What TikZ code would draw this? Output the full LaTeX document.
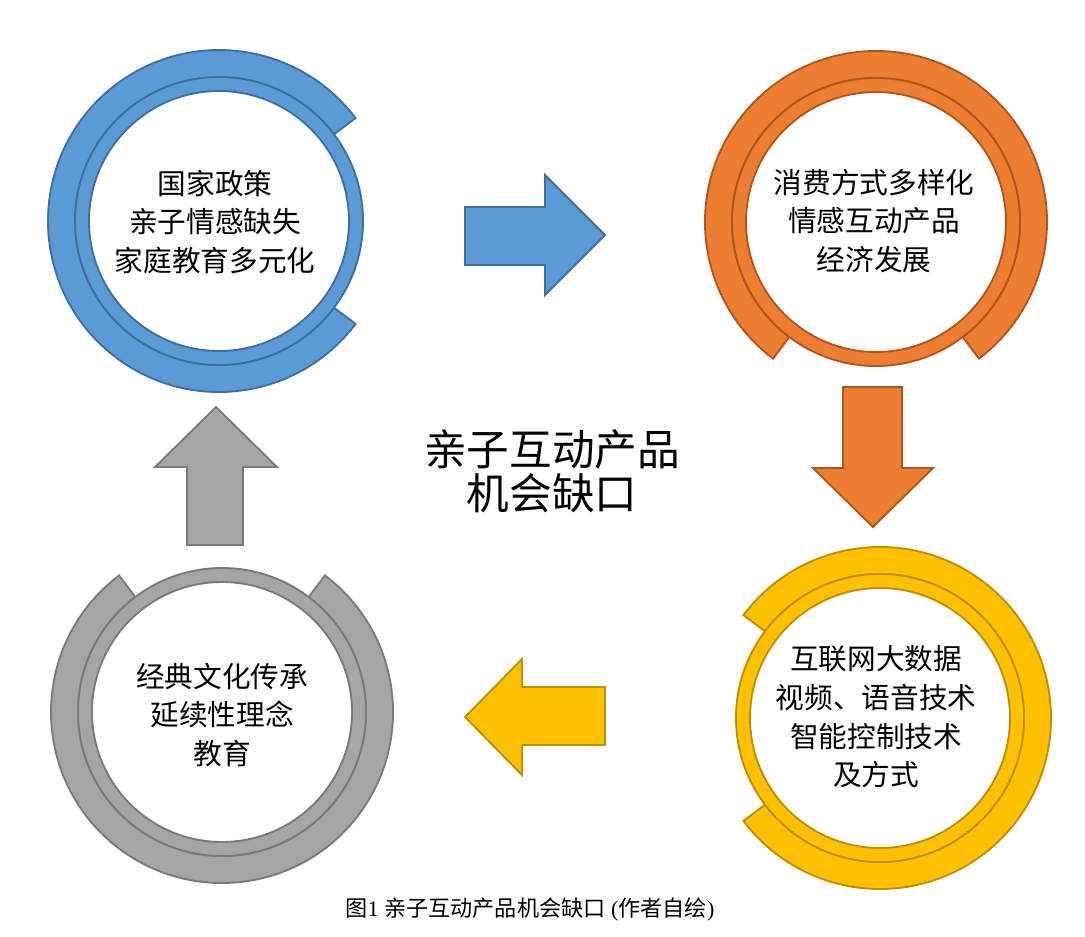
\documentclass[tikz,border=0pt]{standalone}
\usepackage{fontspec}
\setmainfont{Liberation Serif}
\newfontfamily\cjk{Noto Sans CJK SC}
\definecolor{bfill}{HTML}{5B9BD5}\definecolor{bline}{HTML}{3F6F9F}
\definecolor{ofill}{HTML}{ED7D31}\definecolor{oline}{HTML}{B0561C}
\definecolor{yfill}{HTML}{FFC000}\definecolor{yline}{HTML}{BE9000}
\definecolor{gfill}{HTML}{A5A5A5}\definecolor{gline}{HTML}{7A7A7A}
\newcommand\ringunit[5]{%
  \pgfmathsetmacro\ga{#3+37}\pgfmathsetmacro\gb{#3+323}%
  \filldraw[fill=#4,draw=#5,line width=1.4pt,line join=miter]
    (#1,#2) ++(\ga:171) arc[start angle=\ga,end angle=\gb,radius=171]
    -- ++(\gb:-27) arc[start angle=\gb,end angle=\ga,radius=144] -- cycle;
  \filldraw[fill=#4,draw=#5,line width=1.4pt,even odd rule]
    (#1,#2) circle[radius=144] (#1,#2) circle[radius=130];
}
\tikzset{
  circtext/.style={align=center,font=\cjk\fontsize{21.5pt}{29pt}\selectfont,text=black,inner sep=0pt},
  blockarrow/.style={line width=1.4pt,line join=miter}
}
\begin{document}
\begin{tikzpicture}[x=0.75pt,y=-0.75pt]
\useasboundingbox (0,0) rectangle (1085,936);
% rings
\ringunit{219}{221}{0}{bfill}{bline}
\ringunit{876}{222}{90}{ofill}{oline}
\ringunit{880}{718}{180}{yfill}{yline}
\ringunit{222}{712}{270}{gfill}{gline}
% texts in circles
\node[circtext] (policy) at (215,222) {国家政策\\亲子情感缺失\\家庭教育多元化};
\node[circtext] (economy) at (874,221) {消费方式多样化\\情感互动产品\\经济发展};
\node[circtext] (tech) at (876,717) {互联网大数据\\视频、语音技术\\智能控制技术\\及方式};
\node[circtext] (culture) at (222,715) {经典文化传承\\延续性理念\\教育};
% block arrows
\filldraw[blockarrow,fill=bfill,draw=bline] (465,207) -- (545,207) -- (545,175) -- (605,235) -- (545,295) -- (545,265) -- (465,265) -- cycle;
\filldraw[blockarrow,fill=ofill,draw=oline] (843,387) -- (902,387) -- (902,468) -- (933,468) -- (873,527) -- (813,468) -- (843,468) -- cycle;
\filldraw[blockarrow,fill=yfill,draw=yline] (605,687) -- (522,687) -- (522,659) -- (465,717) -- (522,775) -- (522,745) -- (605,745) -- cycle;
\filldraw[blockarrow,fill=gfill,draw=gline] (187,545) -- (187,467) -- (155,467) -- (216,407) -- (277,467) -- (243,467) -- (243,545) -- cycle;
% center title
\node[align=center,font=\cjk\fontsize{32pt}{33pt}\selectfont,inner sep=0pt] (title) at (552,471) {亲子互动产品\\机会缺口};
% caption
\node[font=\fontsize{16.6pt}{19pt}\selectfont,inner sep=0pt] (caption) at (530,910) {{\cjk 图}1 {\cjk 亲子互动产品机会缺口} ({\cjk 作者自绘})};
\end{tikzpicture}
\end{document}
